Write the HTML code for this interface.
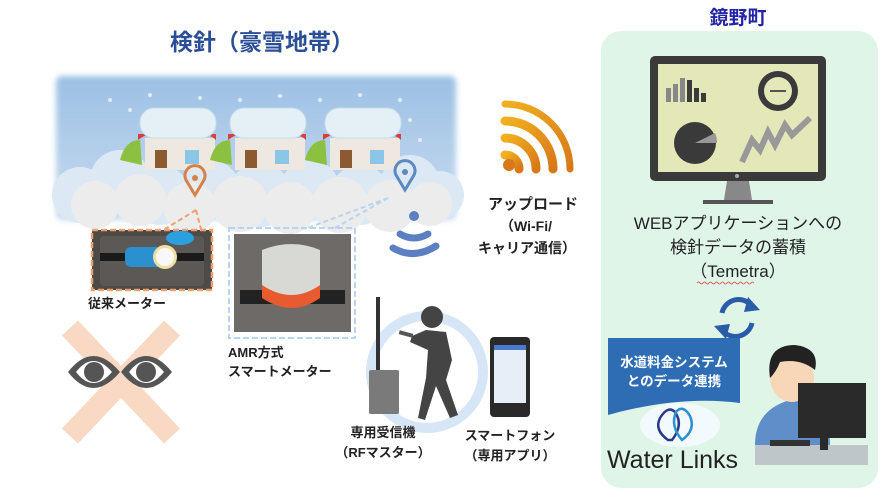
<!DOCTYPE html>
<html><head><meta charset="utf-8"><style>
html,body{margin:0;padding:0;background:#fff;}
svg{display:block;font-family:"Liberation Sans","Noto Sans CJK JP",sans-serif;}
</style></head><body>
<svg width="886" height="504" viewBox="0 0 886 504" xmlns="http://www.w3.org/2000/svg">
<defs>
<linearGradient id="sky" x1="0" y1="0" x2="0" y2="1">
<stop offset="0" stop-color="#9cc0e4"/><stop offset="1" stop-color="#c8dcf0"/></linearGradient>
<linearGradient id="wf" x1="0" y1="0" x2="1" y2="1">
<stop offset="0" stop-color="#f0b020"/><stop offset="1" stop-color="#d87818"/></linearGradient>
<filter id="bl"><feGaussianBlur stdDeviation="3"/></filter>
</defs>

<text x="262" y="50" text-anchor="middle" font-size="23" font-weight="bold" fill="#2a4f96">検針（豪雪地帯）</text>

<rect x="56" y="76" width="400" height="144" rx="6" fill="url(#sky)" filter="url(#bl)"/>
<g fill="#dde8f5">
<circle cx="80" cy="195" r="28"/><circle cx="120" cy="180" r="30"/><circle cx="160" cy="195" r="30"/>
<circle cx="210" cy="190" r="30"/><circle cx="260" cy="195" r="32"/><circle cx="310" cy="190" r="30"/>
<circle cx="360" cy="195" r="30"/><circle cx="410" cy="185" r="30"/><circle cx="440" cy="195" r="24"/>
</g>
<g>
<g transform="translate(140,0)">
<rect x="5" y="138" width="70" height="32" fill="#efe8e0"/><rect x="15" y="150" width="12" height="18" fill="#8b5a30"/><rect x="45" y="150" width="14" height="14" fill="#8cc6e6"/>
<path d="M-2 140 Q10 130 25 138 Q40 130 55 138 Q68 132 76 140 L76 134 L-2 134Z" fill="#d84040"/>
<rect x="0" y="108" width="76" height="30" rx="14" fill="#e4f0f6" stroke="#c4dceb"/>
<path d="M-20 160 Q-15 140 0 140 L2 165Z" fill="#8cc040"/>
</g>
<g transform="translate(230,0)">
<rect x="5" y="138" width="70" height="32" fill="#efe8e0"/><rect x="15" y="150" width="12" height="18" fill="#8b5a30"/><rect x="45" y="150" width="14" height="14" fill="#8cc6e6"/>
<path d="M-2 140 Q10 130 25 138 Q40 130 55 138 Q68 132 76 140 L76 134 L-2 134Z" fill="#d84040"/>
<rect x="0" y="108" width="76" height="30" rx="14" fill="#e4f0f6" stroke="#c4dceb"/>
<path d="M-20 160 Q-15 140 0 140 L2 165Z" fill="#8cc040"/>
</g>
<g transform="translate(325,0)">
<rect x="5" y="138" width="70" height="32" fill="#efe8e0"/><rect x="15" y="150" width="12" height="18" fill="#8b5a30"/><rect x="45" y="150" width="14" height="14" fill="#8cc6e6"/>
<path d="M-2 140 Q10 130 25 138 Q40 130 55 138 Q68 132 76 140 L76 134 L-2 134Z" fill="#d84040"/>
<rect x="0" y="108" width="76" height="30" rx="14" fill="#e4f0f6" stroke="#c4dceb"/>
<path d="M-20 160 Q-15 140 0 140 L2 165Z" fill="#8cc040"/>
</g>
</g>
<g fill="#ececec">
<circle cx="95" cy="205" r="24"/><circle cx="140" cy="200" r="26"/><circle cx="190" cy="208" r="26"/>
<circle cx="240" cy="204" r="28"/><circle cx="290" cy="208" r="26"/><circle cx="340" cy="205" r="28"/>
<circle cx="390" cy="206" r="26"/><circle cx="430" cy="204" r="22"/>
</g>
<g fill="#e8f0f8" opacity=".9">
<circle cx="110" cy="100" r="2"/><circle cx="150" cy="95" r="2"/><circle cx="200" cy="98" r="2"/><circle cx="240" cy="100" r="2"/>
<circle cx="280" cy="96" r="2"/><circle cx="320" cy="100" r="2"/><circle cx="360" cy="95" r="2"/><circle cx="400" cy="100" r="2"/>
<circle cx="130" cy="110" r="2"/><circle cx="410" cy="120" r="2"/><circle cx="420" cy="140" r="2"/>
</g>
<path d="M195 195 L186 180 A10 10 0 1 1 204 180Z" fill="none" stroke="#d4824a" stroke-width="3"/>
<circle cx="195" cy="178" r="3" fill="#d4824a"/>
<path d="M405 190 L396 175 A10 10 0 1 1 414 175Z" fill="none" stroke="#5a8ac0" stroke-width="3"/>
<circle cx="405" cy="172" r="3" fill="#5a8ac0"/>
<path d="M196 210 L165 229 M196 210 L201 229" stroke="#f0a070" stroke-width="2" stroke-dasharray="5 3" fill="none"/>
<path d="M388 198 L305 229 M388 198 L335 228" stroke="#b8d4ee" stroke-width="2" stroke-dasharray="5 3" fill="none"/>

<rect x="92" y="230" width="120" height="60" fill="#4e4a48" stroke="#f0a070" stroke-width="2.5" stroke-dasharray="6 3"/>
<rect x="100" y="236" width="104" height="50" rx="4" fill="#5c5856"/>
<rect x="100" y="253" width="104" height="8" fill="#1a1a1a"/>
<rect x="125" y="247" width="50" height="20" rx="6" fill="#2a90d0"/>
<circle cx="165" cy="257" r="12" fill="#f0e0a0"/><circle cx="165" cy="257" r="9" fill="#f8f8f8"/>
<ellipse cx="180" cy="238" rx="14" ry="7" fill="#2aa0e0"/>
<text x="88" y="308" font-size="13" font-weight="bold" fill="#222">従来メーター</text>

<rect x="229" y="228" width="126" height="110" fill="none" stroke="#b8d4ee" stroke-width="2" stroke-dasharray="6 3"/>
<rect x="234" y="234" width="117" height="98" fill="#6e6a68"/>
<rect x="240" y="290" width="105" height="14" fill="#222"/>
<path d="M262 250 L262 295 Q292 310 320 295 L320 250 Q292 238 262 250Z" fill="#d8d8d4"/>
<path d="M262 285 Q292 305 320 285 L320 298 Q292 318 262 298Z" fill="#e85a30"/>
<text x="228" y="357" font-size="13" font-weight="bold" fill="#222">AMR方式</text>
<text x="228" y="376" font-size="13" font-weight="bold" fill="#222">スマートメーター</text>

<path d="M70 328 L172 436 M172 328 L70 436" stroke="#f9d9c3" stroke-width="22"/>
<g>
<path d="M68 372 Q93 340 120 372 Q93 404 68 372Z" fill="#555"/>
<path d="M76 372 Q93 350 112 372 Q93 394 76 372Z" fill="#fff"/>
<circle cx="94" cy="372" r="10" fill="#555"/>
<path d="M121 372 Q146 340 172 372 Q146 404 121 372Z" fill="#555"/>
<path d="M129 372 Q146 350 164 372 Q146 394 129 372Z" fill="#fff"/>
<circle cx="146" cy="372" r="10" fill="#555"/>
</g>

<circle cx="414" cy="216" r="5" fill="#5b7fc1"/>
<path d="M400 234 Q414 242 428 234" stroke="#5b7fc1" stroke-width="7" fill="none" stroke-linecap="round"/>
<path d="M393 248 Q414 260 436 246" stroke="#5b7fc1" stroke-width="7" fill="none" stroke-linecap="round"/>

<g stroke="url(#wf)" fill="none" stroke-width="9" stroke-linecap="round">
<path d="M505 155 A14 14 0 0 1 519 169"/>
<path d="M505 138 A31 31 0 0 1 536 169"/>
<path d="M505 121 A48 48 0 0 1 553 169"/>
<path d="M505 104 A65 65 0 0 1 570 169" stroke-width="7"/>
</g>
<circle cx="509" cy="165" r="6" fill="#d87818"/>
<text x="488" y="209" font-size="15" font-weight="bold" fill="#222">アップロード</text>
<text x="500" y="231" font-size="14" font-weight="bold" fill="#222">（Wi-Fi/</text>
<text x="478" y="253" font-size="14" font-weight="bold" fill="#222">キャリア通信）</text>

<circle cx="427" cy="372" r="56" fill="none" stroke="#d6e6f6" stroke-width="10"/>
<rect x="376" y="297" width="4" height="78" fill="#333"/>
<rect x="369" y="370" width="30" height="44" rx="2" fill="#7a7a7a"/>
<circle cx="432" cy="317" r="11" fill="#444"/>
<path d="M426 330 L446 332 L452 360 L446 380 L458 415 L450 418 L436 386 L425 420 L418 418 L426 378 L428 350 L410 342 L412 336Z" fill="#444"/>
<rect x="399" y="332" width="14" height="4" fill="#555" transform="rotate(15 406 334)"/>
<rect x="490" y="337" width="40" height="80" rx="4" fill="#2a2a2a"/>
<rect x="494" y="345" width="32" height="58" fill="#e8eef8"/>
<rect x="494" y="345" width="32" height="5" fill="#4a7ad0"/>
<text x="383" y="437" text-anchor="middle" font-size="13" font-weight="bold" fill="#222">専用受信機</text>
<text x="383" y="457" text-anchor="middle" font-size="13" font-weight="bold" fill="#222">（RFマスター）</text>
<text x="510" y="440" text-anchor="middle" font-size="13" font-weight="bold" fill="#222">スマートフォン</text>
<text x="510" y="460" text-anchor="middle" font-size="13" font-weight="bold" fill="#222">（専用アプリ）</text>

<text x="738" y="24" text-anchor="middle" font-size="19" font-weight="bold" fill="#2424a8">鏡野町</text>
<rect x="601" y="31" width="277" height="457" rx="20" fill="#dff5e8"/>
<rect x="650" y="56" width="176" height="125" rx="5" fill="#3a3a3a"/>
<rect x="658" y="64" width="160" height="108" fill="#e4e8b8"/>
<circle cx="737" cy="176" r="2" fill="#aaa"/>
<path d="M727 181 L749 181 L752 200 L724 200Z" fill="#888"/>
<rect x="703" y="200" width="70" height="4" fill="#555"/>
<g fill="#888"><rect x="666" y="88" width="5" height="14"/><rect x="673" y="84" width="5" height="18"/><rect x="680" y="78" width="5" height="24"/></g>
<g fill="#3a3a3a"><rect x="687" y="80" width="5" height="22"/><rect x="694" y="88" width="5" height="14"/><rect x="701" y="93" width="5" height="9"/></g>
<circle cx="778" cy="91" r="20" fill="#3a3a3a"/><circle cx="778" cy="91" r="14" fill="#e4e8b8"/>
<rect x="770" y="90" width="16" height="2" fill="#555"/>
<circle cx="695" cy="143" r="21" fill="#3a3a3a"/>
<path d="M695 143 L715 133 A22 22 0 0 1 717 143Z" fill="#999"/>
<path d="M742 162 L752 140 L760 150 L768 132 L775 145 L785 125 L792 135 L810 118" stroke="#999" stroke-width="6" fill="none"/>
<text x="738" y="229" text-anchor="middle" font-size="17" fill="#222">WEBアプリケーションへの</text>
<text x="738" y="253" text-anchor="middle" font-size="17" fill="#222">検針データの蓄積</text>
<text x="738" y="277" text-anchor="middle" font-size="17" fill="#222">（Temetra）</text>
<path d="M697 283 q1.5 -2 3 0 t3 0 t3 0 t3 0 t3 0 t3 0 t3 0 t3 0 t3 0 t3 0 t3 0 t3 0 t3 0 t3 0 t3 0 t3 0 t3 0 t3 0 t3 0" stroke="#e04040" stroke-width=".8" fill="none"/>
<g stroke="#2a5ca8" stroke-width="5" fill="none">
<path d="M722 313 A17 17 0 0 1 752 306"/>
<path d="M752 323 A17 17 0 0 1 722 330"/>
</g>
<path d="M748 297 L760 310 L744 312Z" fill="#2a5ca8"/>
<path d="M726 339 L714 326 L730 324Z" fill="#2a5ca8"/>
<path d="M608 338 L740 338 L740 403 Q680 395 608 415Z" fill="#2e6db4"/>
<text x="674" y="367" text-anchor="middle" font-size="13.5" font-weight="bold" fill="#fff">水道料金システム</text>
<text x="674" y="386" text-anchor="middle" font-size="13.5" font-weight="bold" fill="#fff">とのデータ連携</text>
<ellipse cx="680" cy="425" rx="40" ry="22" fill="#f4fbff" opacity=".9"/>
<path d="M668 440 Q654 430 660 418 Q668 405 675 412 Q684 425 672 440Z" fill="none" stroke="#2a3a8a" stroke-width="2.5"/>
<path d="M682 440 Q696 430 690 416 Q683 404 676 412 Q670 426 682 440Z" fill="none" stroke="#2a90d0" stroke-width="2.5"/>
<text x="607" y="468" font-size="25" fill="#222">Water Links</text>
<rect x="755" y="445" width="113" height="20" fill="#bfc6ca"/>
<path d="M755 445 Q755 410 790 400 L800 400 Q830 405 830 445Z" fill="#5f8ec8"/>
<ellipse cx="792" cy="378" rx="22" ry="24" fill="#f8d6b8"/>
<path d="M770 378 Q765 345 795 345 Q820 348 815 370 Q800 358 780 362 Q776 372 770 378Z" fill="#222"/>
<rect x="798" y="383" width="68" height="55" fill="#2a2a2a"/>
<rect x="820" y="438" width="8" height="12" fill="#2a2a2a"/>
<rect x="770" y="440" width="40" height="6" fill="#333"/>
</svg>
</body></html>
